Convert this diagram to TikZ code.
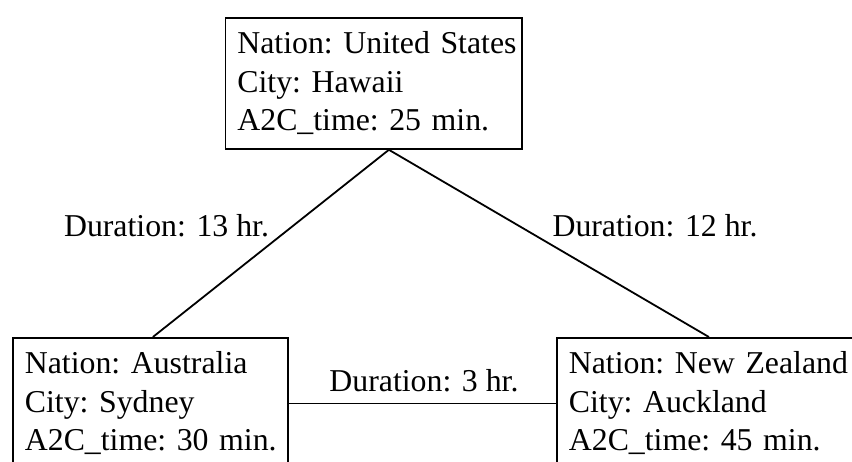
\documentclass[tikz,border=0pt]{standalone}
\usepackage{fontspec}
\setmainfont{Liberation Serif}
\begin{document}
\begin{tikzpicture}[x=1pt,y=1pt,
  txt/.style={font=\fontsize{31.8}{38.5}\selectfont},
  citybox/.style={txt, draw, line width=1.8pt, rectangle, anchor=north west,
    align=left, inner xsep=12pt, inner ysep=0pt, minimum height=131pt, text width=#1},
  link/.style={line width=1.8pt},
  lbl/.style={txt, fill=white, inner sep=1pt}]
  \useasboundingbox (0,0) rectangle (852,461);
  \clip (0,0) rectangle (852,461);

  % city boxes
  \node[citybox=272.5pt] (top) at (224.5,444)
    {Nation:~United~States\\City:~Hawaii\\A2C\_time:~25~min.};
  \node[citybox=251pt] (left) at (12,124)
    {Nation:~Australia\\City:~Sydney\\A2C\_time:~30~min.};
  \node[citybox=286pt] (right) at (556,124)
    {Nation:~New~Zealand\\City:~Auckland\\A2C\_time:~45~min.};

  % flight connections
  \coordinate (apex) at ([xshift=15.25pt]top.south);
  \draw[link] (apex) -- ([xshift=2.5pt]left.north);
  \draw[link] (apex) -- ([xshift=-3pt]right.north);
  \draw[link] (left.east) -- (right.west);

  % durations
  \node[lbl] (d13) at (166.5,235) {Duration: 13 hr.};
  \node[lbl] (d12) at (655,235) {Duration: 12 hr.};
  \node[lbl] (d3) at (424,80) {Duration: 3 hr.};
\end{tikzpicture}
\end{document}
